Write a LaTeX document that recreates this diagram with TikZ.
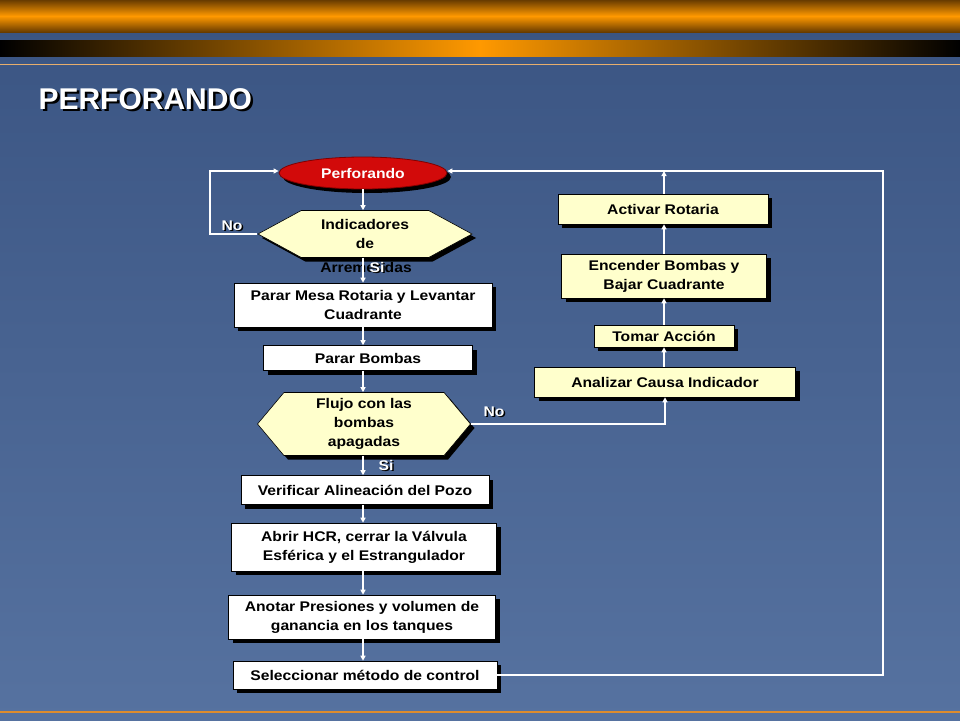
\documentclass[tikz,border=0pt]{standalone}
\usepackage{fontspec}
\setmainfont{Liberation Sans}[FakeStretch=1.12]
\newfontfamily\titlefont{Liberation Sans}
\usetikzlibrary{shapes.geometric,shapes.symbols,shadows,arrows.meta}
\definecolor{bgtop}{RGB}{58,84,130}
\definecolor{bgbot}{RGB}{86,114,160}
\definecolor{barorange}{RGB}{255,153,0}
\definecolor{barbrown}{RGB}{105,60,0}
\definecolor{pale}{RGB}{255,255,204}
\definecolor{perfred}{RGB}{210,10,10}
\definecolor{lineorange}{RGB}{222,140,45}
\newcommand{\shtext}[2][1.5pt]{\rlap{\kern#1\raisebox{-#1}{\color{black}#2}}#2}

\begin{document}
\begin{tikzpicture}[x=1pt,y=-1pt,
  boxfont/.style={font=\bfseries\fontsize{14}{19}\selectfont},
  hardshadow/.style={drop shadow={shadow xshift=4pt,shadow yshift=-4pt,fill=black,opacity=1}},
  stepbox/.style={boxfont,rectangle,draw=black,line width=0.6pt,fill=white,align=center,inner sep=1pt,hardshadow},
  actbox/.style={stepbox,fill=pale},
  query/.style={boxfont,signal,signal to=west and east,draw=black,line width=0.6pt,fill=pale,align=center,inner sep=1pt,hardshadow},
  lbl/.style={boxfont,text=white,inner sep=0pt},
  conn/.style={draw=white,line width=1.2pt,-{Triangle[length=5pt,width=5pt]}}]
\useasboundingbox (0,0) rectangle (960,720);
\shade[top color=bgtop,bottom color=bgbot] (0,0) rectangle (960,720);
\shade[top color=barbrown,bottom color=barbrown,middle color=barorange] (0,0) rectangle (960,32);
\shade[left color=black,right color=black,middle color=barorange] (0,40) rectangle (960,56);
\draw[lineorange!70!white,line width=1pt] (0,64) -- (960,64);
\draw[lineorange,line width=2.5pt] (0,712) -- (960,712);
\node[anchor=west,text=white,font=\titlefont\bfseries\fontsize{30}{34}\selectfont] (title) at (35,100) {\shtext[2.5pt]{PERFORANDO}};

\node[ellipse,draw=red!50!black,line width=0.8pt,fill=perfred,minimum width=168pt,minimum height=32pt,inner sep=0pt,boxfont,text=white,hardshadow] (perf) at (363,173) {Perforando};
\node[query,minimum width=214pt,minimum height=47pt,signal pointer angle=57] (ind) at (365,234) {Indicadores\\de};
\node[boxfont,inner sep=0pt] (arrem) at (366,267) {Arremetidas};
\node[stepbox,minimum width=258pt,minimum height=44pt] (mesa) at (363,305) {Parar Mesa Rotaria y Levantar\\Cuadrante};
\node[stepbox,minimum width=209pt,minimum height=25pt] (bombas) at (368,358) {Parar Bombas};
\node[query,minimum width=213pt,minimum height=63pt,signal pointer angle=100] (flujo) at (364,424) {Flujo con las\\bombas\\apagadas};
\node[stepbox,minimum width=248pt,minimum height=29pt] (verif) at (365,490) {Verificar Alineación del Pozo};
\node[stepbox,minimum width=265pt,minimum height=48pt] (abrir) at (364,547) {Abrir HCR, cerrar la Válvula\\Esférica y el Estrangulador};
\node[stepbox,minimum width=267pt,minimum height=44pt] (anotar) at (362,617) {Anotar Presiones y volumen de\\ganancia en los tanques};
\node[stepbox,minimum width=264pt,minimum height=28pt] (selec) at (365,675) {Seleccionar método de control};

\node[actbox,minimum width=210pt,minimum height=30pt] (activar) at (663,209) {Activar Rotaria};
\node[actbox,minimum width=205pt,minimum height=44pt] (encender) at (664,276) {Encender Bombas y\\Bajar Cuadrante};
\node[actbox,minimum width=140pt,minimum height=22pt] (tomar) at (664,336) {Tomar Acción};
\node[actbox,minimum width=261pt,minimum height=30pt] (analizar) at (665,382) {Analizar Causa Indicador};

\coordinate (lp) at (210,171);
\coordinate (rp) at (883,171);
\coordinate (tp) at (664,171);

\draw[conn] (perf.south) -- (perf.south |- ind.north);
\draw[conn] (ind.south -| mesa.north) -- (mesa.north);
\draw[conn] (ind.west) -| (lp) -- (lp -| perf.west);
\draw[conn] (mesa.south) -- (mesa.south |- bombas.north);
\draw[conn] (mesa.south |- bombas.south) -- (mesa.south |- flujo.north);
\draw[conn] (mesa.south |- flujo.south) -- (mesa.south |- verif.north);
\draw[conn] (mesa.south |- verif.south) -- (mesa.south |- abrir.north);
\draw[conn] (mesa.south |- abrir.south) -- (mesa.south |- anotar.north);
\draw[conn] (mesa.south |- anotar.south) -- (mesa.south |- selec.north);
\draw[conn] (flujo.east) -| (analizar.south);
\draw[conn] (analizar.north -| tp) -- (tomar.south -| tp);
\draw[conn] (tomar.north -| tp) -- (encender.south -| tp);
\draw[conn] (encender.north -| tp) -- (activar.south -| tp);
\draw[conn] (activar.north -| tp) -- (tp);
\draw[conn] (selec.east) -| (rp) -- (rp -| perf.east);

\node[lbl] (no1) at (232,226) {\shtext{No}};
\node[lbl] (si1) at (377,268) {\shtext{Si}};
\node[lbl] (si2) at (386,466) {\shtext{Si}};
\node[lbl] (no2) at (494,412) {\shtext{No}};
\end{tikzpicture}
\end{document}
